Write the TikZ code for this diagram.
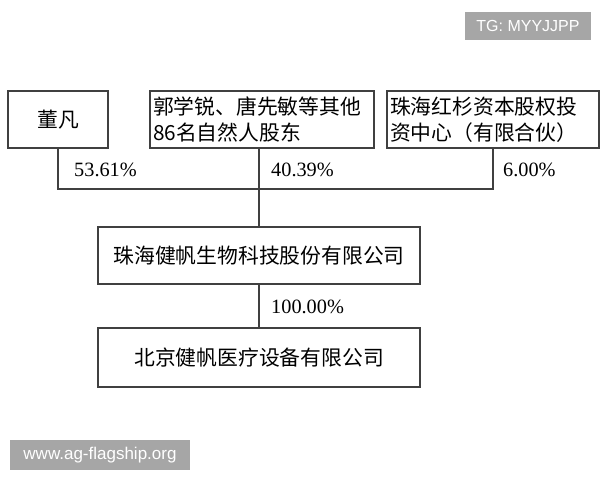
\documentclass[tikz,border=0pt]{standalone}
\usepackage{fontspec}
\setmainfont{Liberation Serif}
\newfontfamily\cjk{Noto Sans CJK SC}
\newfontfamily\wmfont{Liberation Sans}
\usetikzlibrary{positioning}

\tikzset{
    box/.style={draw=black!75, line width=1.1pt, fill=white, inner sep=3pt,
        font=\cjk\fontsize{20.8}{26}\selectfont},
    pct/.style={anchor=west, inner sep=0pt, font=\fontsize{20.3}{24}\selectfont},
    link/.style={draw=black!75, line width=1.1pt},
    mark box/.style={fill=black!35, text=white, inner sep=0pt}
}

\begin{document}
\begin{tikzpicture}[x=1pt, y=-1pt]
        \useasboundingbox[fill=white] (0,0) rectangle (600,480);

        % shareholders
        \node[box, minimum width=100, minimum height=57] (dongfan) at (58,119.5) {董凡};
        \node[box, minimum width=224, minimum height=57, text width=218, align=left] (gudong) at (262,119.5)
            {郭学锐、唐先敏等其他\\86名自然人股东};
        \node[box, minimum width=212, minimum height=57, text width=206, align=left] (hongshan) at (493,119.5)
            {珠海红杉资本股权投\\资中心（有限合伙）};

        % companies
        \node[box, minimum width=322, minimum height=57] (jianfan) at (259,255.5) {珠海健帆生物科技股份有限公司};
        \node[box, minimum width=322, minimum height=59] (beijing) at (259,357.5) {北京健帆医疗设备有限公司};

        \coordinate (j) at (259,189);
        \draw[link] (dongfan.south) -- (dongfan.south |- j) -- (hongshan.south |- j) -- (hongshan.south);
        \draw[link] (gudong.south -| j) -- (jianfan.north);
        \draw[link] (jianfan.south) -- (beijing.north);

        \node[pct] (p1) at (74,170) {53.61\%};
        \node[pct] (p2) at (271,170) {40.39\%};
        \node[pct] (p3) at (503,170) {6.00\%};
        \node[pct] (p4) at (271,307) {100.00\%};

        % watermarks
        \node[mark box, minimum width=126, minimum height=28, font=\wmfont\fontsize{16}{18}\selectfont] (tg) at (528,26) {TG: MYYJJPP};
        \node[mark box, minimum width=180, minimum height=30, font=\wmfont\fontsize{17}{19}\selectfont] (site) at (100,455) {www.ag-flagship.org};
    \end{tikzpicture}
\end{document}
